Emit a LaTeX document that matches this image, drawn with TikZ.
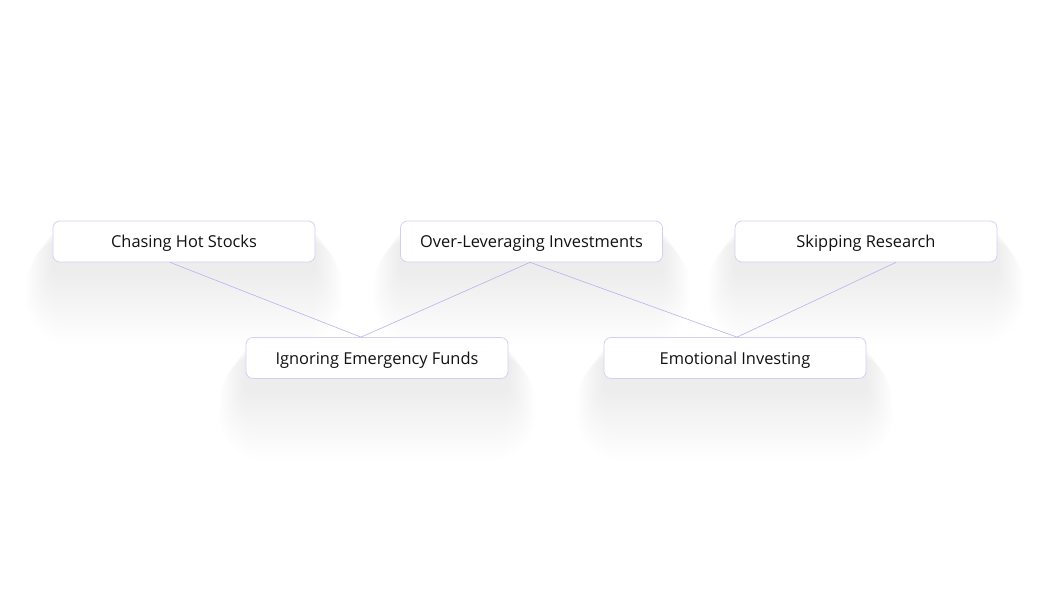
\documentclass[tikz,border=0pt]{standalone}
\usepackage{fontspec}
\setmainfont{Open Sans}
\usetikzlibrary{backgrounds}
\definecolor{boxline}{HTML}{D2CFF2}
\definecolor{linkline}{HTML}{B7B1EC}
\definecolor{labeltext}{HTML}{111111}

\begin{document}
\begin{tikzpicture}[x=0.03cm, y=-0.03cm,
  mistake/.style={draw=boxline, line width=0.6pt, fill=white, rounded corners=6pt,
    minimum width=7.86cm, minimum height=1.23cm, text=labeltext,
    text height=1.3em, text depth=0.25em,
    font=\fontsize{14}{16}\selectfont},
  haze/.style={fill=black, opacity=0.0055},
  link/.style={draw=linkline, line width=0.5pt}]
  % canvas
  \useasboundingbox (0,0) rectangle (1050,600);
  % link anchors
  \coordinate (c1) at (170,262);
  \coordinate (c2) at (530,262);
  \coordinate (c3) at (896,262);
  \coordinate (d1) at (361,338);
  \coordinate (d2) at (737,338);
  % top row
  \node[mistake] (chase) at (184,241.5) {Chasing Hot Stocks};
  \node[mistake] (lever) at (531.5,241.5) {Over-Leveraging Investments};
  \node[mistake] (skip) at (866,241.5) {Skipping Research};
  % bottom row
  \node[mistake] (ignore) at (377,358) {Ignoring Emergency Funds};
  \node[mistake] (emotion) at (735,358) {Emotional Investing};
  % connectors
  \draw[link] (chase.south -| c1) -- (ignore.north -| d1);
  \draw[link] (lever.south -| c2) -- (ignore.north -| d1);
  \draw[link] (lever.south -| c2) -- (emotion.north -| d2);
  \draw[link] (skip.south -| c3) -- (emotion.north -| d2);
  % soft shadows
  \begin{scope}[on background layer]
    \fill[white] (0,0) rectangle (1050,600);
    \foreach \n in {chase,lever,skip,ignore,emotion}
      \foreach \i in {1,...,18}
        \fill[haze, rounded corners=4pt+\i*2pt]
          ([xshift=-\i*0.045cm, yshift=-0.25cm-\i*0.015cm]\n.north west)
          rectangle ([xshift=\i*0.045cm, yshift=-0.3cm-\i*0.12cm]\n.south east);
  \end{scope}
\end{tikzpicture}
\end{document}
